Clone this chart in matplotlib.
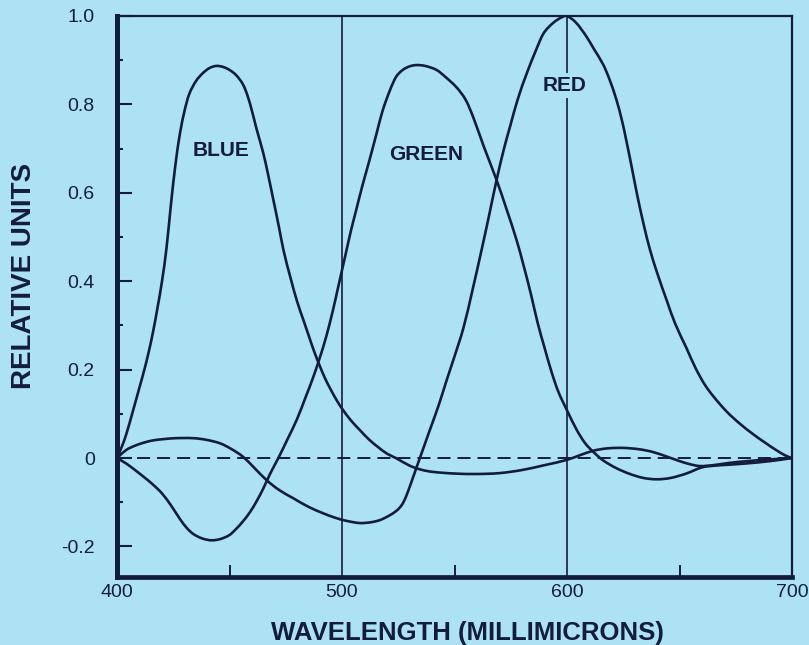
import matplotlib
matplotlib.use("Agg")
import numpy as np
import matplotlib.pyplot as plt
from matplotlib.path import Path
from matplotlib.patches import PathPatch
from matplotlib.ticker import FixedLocator, FixedFormatter

# ---- data: relative response of the three primaries vs. wavelength (millimicrons) ----
blue_nm = [400, 402, 404, 407, 410, 412, 414, 416, 418, 420, 422, 424, 426, 428,
           430, 432, 435, 438, 441, 444, 447, 450, 453, 456, 458, 460, 462, 465, 467,
           469.5, 472, 474, 477, 480, 483, 485, 487.5, 490, 492.5, 495, 497.5, 500,
           504, 508, 512, 516, 520, 524, 530, 535, 540, 550, 560, 570, 580, 590, 600,
           606, 612, 618, 625, 632, 638, 644, 649, 654, 659, 665, 672, 680, 690, 700]
blue_val = [0.0, 0.024, 0.052, 0.105, 0.16, 0.197, 0.238, 0.285, 0.34, 0.40, 0.475,
            0.575, 0.665, 0.735, 0.785, 0.822, 0.852, 0.87, 0.882, 0.887, 0.885, 0.878,
            0.866, 0.845, 0.82, 0.785, 0.745, 0.69, 0.645, 0.584, 0.522, 0.47, 0.41,
            0.355, 0.31, 0.28, 0.243, 0.21, 0.18, 0.155, 0.132, 0.112, 0.085, 0.063,
            0.042, 0.025, 0.01, 0.0, -0.017, -0.026, -0.031, -0.035, -0.036, -0.034,
            -0.027, -0.016, -0.004, 0.007, 0.017, 0.022, 0.023, 0.02, 0.014, 0.004,
            -0.005, -0.013, -0.018, -0.016, -0.011, -0.007, -0.003, 0.0]

green_nm = [400, 404, 408, 412, 416, 420, 424, 428, 431, 434, 438, 442, 446, 450, 453,
            456, 459, 462, 465, 468, 471.7, 476, 480, 484, 487, 490, 493, 496, 498,
            500, 502, 504, 506, 509, 512, 515.4, 518, 521.3, 524, 527, 530, 533, 537, 542,
            546, 551, 555, 558.4, 563, 568.7, 573, 577.6, 581, 584, 587, 590,
            593, 596, 600, 604.3, 608, 611.7, 616, 622, 628, 634, 640, 646, 653, 660,
            666, 672, 680, 690, 700]
green_val = [0.0, -0.012, -0.027, -0.043, -0.06, -0.08, -0.107, -0.138, -0.158, -0.172,
             -0.182, -0.186, -0.183, -0.174, -0.16, -0.143, -0.123, -0.098, -0.069, -0.036,
             0.0, 0.045, 0.088, 0.14, 0.18, 0.225, 0.275, 0.335, 0.38, 0.425, 0.47, 0.515,
             0.555, 0.615, 0.67, 0.735, 0.785, 0.832, 0.862, 0.878, 0.886, 0.889, 0.887,
             0.878, 0.862, 0.838, 0.81, 0.77, 0.705, 0.629, 0.565, 0.493, 0.43, 0.37,
             0.305, 0.25, 0.197, 0.152, 0.108, 0.064, 0.034, 0.014, -0.005, -0.023, -0.036,
             -0.045, -0.048, -0.045, -0.035, -0.021, -0.017, -0.015, -0.012, -0.007, 0.0]

red_nm = [400, 404, 408, 412, 416, 421, 426, 434, 440, 446, 451, 456, 461, 466.5, 472,
          478.4, 485, 491.7, 497, 502, 508, 513, 517, 521, 524, 526, 527.5, 529, 531,
          533.2, 536, 539, 543, 546.5, 550, 554, 558, 562, 565, 568.7, 572, 574.7, 578,
          582.1, 586, 589.5, 594, 598, 600, 604, 608.7, 612, 616.1, 619, 622, 624.5,
          626.5, 629, 631, 634, 636.9, 640, 644.3, 648, 653, 657, 661, 665, 671, 677,
          683, 688, 693, 697, 700]
red_val = [0.0, 0.018, 0.028, 0.035, 0.04, 0.043, 0.045, 0.045, 0.041, 0.033, 0.02,
           0.003, -0.022, -0.05, -0.072, -0.091, -0.11, -0.125, -0.135, -0.142, -0.147,
           -0.145, -0.14, -0.13, -0.12, -0.11, -0.098, -0.08, -0.052, -0.02, 0.02, 0.063,
           0.12, 0.176, 0.23, 0.295, 0.38, 0.47, 0.54, 0.629, 0.70, 0.75, 0.81, 0.87,
           0.92, 0.96, 0.985, 0.998, 1.0, 0.985, 0.953, 0.925, 0.89, 0.855, 0.81, 0.762,
           0.715, 0.652, 0.6, 0.53, 0.471, 0.42, 0.357, 0.305, 0.25, 0.205, 0.168, 0.14,
           0.105, 0.077, 0.053, 0.035, 0.018, 0.006, 0.0]

curve_labels = ["BLUE", "GREEN", "RED"]
label_nm = [446, 537.3, 599.1]
label_val = [0.695, 0.686, 0.842]

x_ticks = [400, 500, 600, 700]
x_tick_labels = ["400", "500", "600", "700"]
x_minor = [450, 550, 650]
y_ticks = [-0.2, 0.0, 0.2, 0.4, 0.6, 0.8, 1.0]
y_tick_labels = ["-0.2", "0", "0.2", "0.4", "0.6", "0.8", "1.0"]
y_minor = [-0.1, 0.1, 0.3, 0.5, 0.7, 0.9]
guide_nm = [500, 600]

# ---- style ----
BG = "#ade2f5"
INK = "#141c3c"
plt.rcParams["font.family"] = ["Liberation Sans", "DejaVu Sans"]


def smooth_path(xs, ys):
    """Cubic Hermite Bezier path through the given points (slopes from neighbours)."""
    x = np.asarray(xs, float)
    y = np.asarray(ys, float)
    n = len(x)
    m = np.empty(n)
    m[0] = (y[1] - y[0]) / (x[1] - x[0])
    m[-1] = (y[-1] - y[-2]) / (x[-1] - x[-2])
    m[1:-1] = (y[2:] - y[:-2]) / (x[2:] - x[:-2])
    verts = [(x[0], y[0])]
    codes = [Path.MOVETO]
    for i in range(n - 1):
        h = (x[i + 1] - x[i]) / 3.0
        verts += [(x[i] + h, y[i] + h * m[i]),
                  (x[i + 1] - h, y[i + 1] - h * m[i + 1]),
                  (x[i + 1], y[i + 1])]
        codes += [Path.CURVE4] * 3
    return Path(verts, codes)


fig = plt.figure(figsize=(8.09, 6.45), dpi=100, facecolor=BG)
ax = fig.add_axes([117 / 809, 1 - 577 / 645, 675 / 809, 561 / 645])
ax.set_facecolor(BG)

ax.set_xlim(400, 700)
ax.set_ylim(-0.269, 1.0)

# vertical guide lines and zero reference
for g in guide_nm:
    ax.axvline(g, color=INK, lw=1.2, zorder=1)
ax.axhline(0, color=INK, lw=1.4, linestyle=(0, (6.7, 3.6)), zorder=1)

for nm, val in ((blue_nm, blue_val), (green_nm, green_val), (red_nm, red_val)):
    ax.add_patch(PathPatch(smooth_path(nm, val), fill=False, edgecolor=INK,
                           lw=1.9, joinstyle="round", capstyle="round", zorder=3))

for name, lx, ly in zip(curve_labels, label_nm, label_val):
    ax.text(lx, ly, name, ha="center", va="center", fontsize=15, fontweight="bold",
            color=INK, zorder=4,
            bbox=dict(boxstyle="square,pad=0.15", fc=BG, ec="none"))

# spines
for side, w in (("left", 3.6), ("bottom", 3.4), ("top", 1.6), ("right", 1.6)):
    ax.spines[side].set_linewidth(w)
    ax.spines[side].set_color(INK)

ax.xaxis.set_major_locator(FixedLocator(x_ticks))
ax.xaxis.set_major_formatter(FixedFormatter(x_tick_labels))
ax.xaxis.set_minor_locator(FixedLocator(x_minor))
ax.yaxis.set_major_locator(FixedLocator(y_ticks))
ax.yaxis.set_major_formatter(FixedFormatter(y_tick_labels))
ax.yaxis.set_minor_locator(FixedLocator(y_minor))

ax.tick_params(axis="x", which="major", direction="in", length=0, pad=5,
               labelsize=14, labelcolor=INK)
ax.tick_params(axis="x", which="minor", direction="in", length=8.5, width=1.4,
               color=INK)
ax.tick_params(axis="y", which="major", direction="in", length=10.8, width=1.5,
               pad=16, labelsize=14, labelcolor=INK, color=INK)
ax.tick_params(axis="y", which="minor", direction="in", length=4.5, width=1.5,
               color=INK)

fig.text(24 / 809, 1 - 276 / 645, "RELATIVE UNITS", rotation=90, ha="center",
         va="center", fontsize=20, fontweight="bold", color=INK)
fig.text(467 / 809, 1 - 633 / 645, "WAVELENGTH (MILLIMICRONS)", ha="center",
         va="center", fontsize=18.5, fontweight="bold", color=INK)

fig.savefig("out.png", dpi=100, facecolor=BG)
